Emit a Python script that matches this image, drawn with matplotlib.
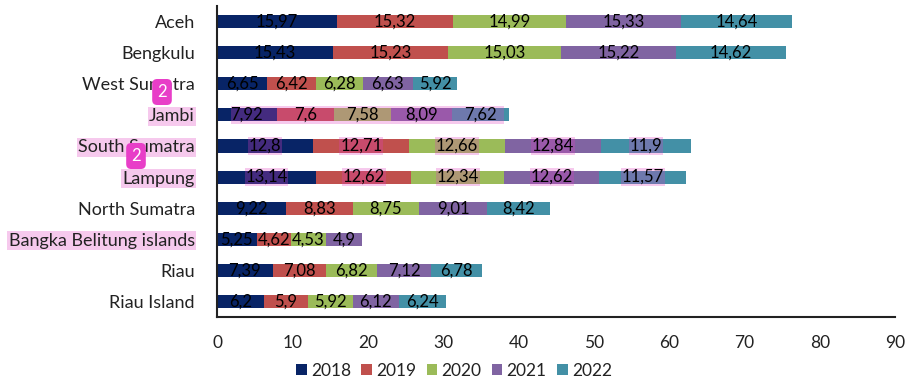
import matplotlib.pyplot as plt
from matplotlib.patches import Rectangle

plt.rcParams['font.family'] = ['Lato', 'DejaVu Sans']

provinces = ["Aceh", "Bengkulu", "West Sumatra", "Jambi", "South Sumatra",
             "Lampung", "North Sumatra", "Bangka Belitung islands", "Riau", "Riau Island"]
years = ["2018", "2019", "2020", "2021", "2022"]
v2018 = [15.97, 15.43, 6.65, 7.92, 12.8, 13.14, 9.22, 5.25, 7.39, 6.2]
v2019 = [15.32, 15.23, 6.42, 7.6, 12.71, 12.62, 8.83, 4.62, 7.08, 5.9]
v2020 = [14.99, 15.03, 6.28, 7.58, 12.66, 12.34, 8.75, 4.53, 6.82, 5.92]
v2021 = [15.33, 15.22, 6.63, 8.09, 12.84, 12.62, 9.01, 4.9, 7.12, 6.12]
v2022 = [14.64, 14.62, 5.92, 7.62, 11.9, 11.57, 8.42, None, 6.78, 6.24]
series = [v2018, v2019, v2020, v2021, v2022]
colors = ['#082466', '#c0504d', '#9bbb59', '#8064a2', '#4390a6']

# rows that someone highlighted in the source document
highlighted_labels = ["Jambi", "South Sumatra", "Lampung", "Bangka Belitung islands"]
highlighted_values = ["South Sumatra", "Lampung"]
hl = '#e040c0'

fig = plt.figure(figsize=(9.08, 3.81), dpi=100)
ax = fig.add_axes([0.239, 0.168, 0.747, 0.816])

ypos = list(range(len(provinces)))
left = [0.0] * len(provinces)
for vals, col, yr in zip(series, colors, years):
    w = [v if v is not None else 0 for v in vals]
    ax.barh(ypos, w, left=left, height=0.42, color=col, label=yr, zorder=2)
    for i, v in enumerate(vals):
        if v is None:
            continue
        txt = f"{v:g}".replace('.', ',')
        kw = {}
        if provinces[i] in highlighted_values:
            kw['bbox'] = dict(boxstyle='square,pad=0.05', fc=hl, ec='none', alpha=0.28)
        ax.text(left[i] + v / 2, i, txt, ha='center', va='center',
                fontsize=12, color='black', zorder=4, **kw)
    left = [l + x for l, x in zip(left, w)]

# pink overlay on the Jambi row
j = provinces.index("Jambi")
ax.add_patch(Rectangle((1.9, j - 0.29), 36.2, 0.58, color=hl, alpha=0.28, zorder=3, lw=0))

ax.set_yticks(ypos)
ax.set_yticklabels(provinces, fontsize=13, color='#222222')
for lbl in ax.get_yticklabels():
    if lbl.get_text() in highlighted_labels:
        lbl.set_bbox(dict(boxstyle='square,pad=0.08', fc=hl, ec='none', alpha=0.28))
ax.set_ylim(len(provinces) - 0.5, -0.5)
ax.set_xlim(0, 90)
ax.set_xticks(range(0, 91, 10))
ax.tick_params(axis='x', length=0, pad=13, labelsize=12.5, labelcolor='#222222')
ax.tick_params(axis='y', length=0, pad=16)
ax.spines['top'].set_visible(False)
ax.spines['right'].set_visible(False)
ax.spines['left'].set_color('#222222')
ax.spines['left'].set_linewidth(1.5)
ax.spines['bottom'].set_color('#222222')
ax.spines['bottom'].set_linewidth(1.5)

fig.legend(loc='lower center', bbox_to_anchor=(0.5, -0.035), ncol=5, frameon=False,
           fontsize=12.5, handlelength=0.6, handleheight=0.6, handletextpad=0.25,
           columnspacing=0.6, labelcolor='#222222')

# the little comment badges
for bx, by in [(162, 92), (136, 156)]:
    fig.text(bx / 908, 1 - by / 381, "2", color='white', fontsize=12, ha='center', va='center',
             zorder=5,
             bbox=dict(boxstyle='round,pad=0.3,rounding_size=0.3', fc='#e83ec8', ec='none'))

fig.savefig("out.png", dpi=100)
